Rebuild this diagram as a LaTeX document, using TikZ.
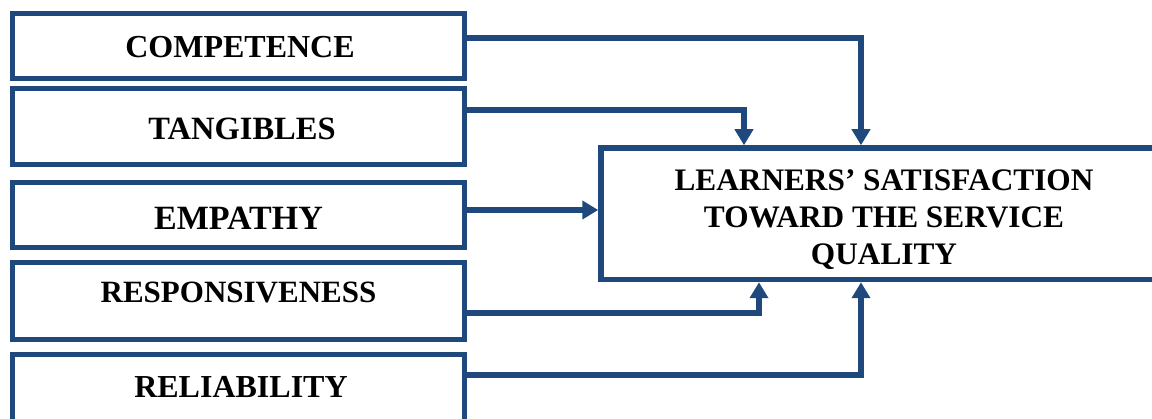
\documentclass[tikz,border=0pt]{standalone}
\usepackage{fontspec}
\setmainfont{Liberation Serif}
\usetikzlibrary{arrows.meta}
\usetikzlibrary{calc}
\definecolor{linkblue}{RGB}{31,73,125}

\begin{document}
\begin{tikzpicture}[
	x=1pt, y=-1pt,
	factor/.style={draw=linkblue, line width=5.5pt, minimum width=452pt, inner sep=0pt},
	target/.style={draw=linkblue, line width=5.5pt, minimum width=566pt, minimum height=131.5pt, inner sep=0pt},
	lbl/.style={anchor=base, inner sep=0pt, font=\bfseries\fontsize{32}{38}\selectfont},
	link/.style={draw=linkblue, line width=5.5pt, -{Triangle[length=16pt, width=18pt]}}
]
\useasboundingbox (0,0) rectangle (1152,419);

% dimension boxes
\node[factor, minimum height=65pt] (comp) at (238.5,46) {};
\node[factor, minimum height=76pt] (tang) at (238.5,126.5) {};
\node[factor, minimum height=65pt] (emp) at (238.5,215) {};
\node[factor, minimum height=77pt] (resp) at (238.5,301) {};
\node[factor, minimum height=76pt] (rel) at (238.5,392.5) {};

\node[lbl] (compTxt) at (240,58) {COMPETENCE};
\node[lbl, font=\bfseries\fontsize{32.5}{38}\selectfont] (tangTxt) at (242,140) {TANGIBLES};
\node[lbl, font=\bfseries\fontsize{34}{38}\selectfont] (empTxt) at (238.5,230) {EMPATHY};
\node[lbl, font=\bfseries\fontsize{31}{38}\selectfont] (respTxt) at (238.5,303) {RESPONSIVENESS};
\node[lbl] (relTxt) at (241,398) {RELIABILITY};

% satisfaction box
\node[target] (sat) at (884,213.75) {};
\node[align=center, inner sep=0pt, font=\bfseries\fontsize{31.3}{37}\selectfont] (satTxt) at (884,219.5)
	{LEARNERS’ SATISFACTION\\TOWARD THE SERVICE\\QUALITY};

\coordinate (colC) at (861,0);
\coordinate (colT) at (744,0);
\coordinate (colR) at (759,0);

\draw[link] ($(comp.east)+(0,-8)$) -| (sat.north -| colC);
\draw[link] ($(tang.east)+(0,-16.5)$) -| (sat.north -| colT);
\draw[link] ($(emp.east)+(0,-5)$) coordinate (empOut) -- (empOut -| sat.west);
\draw[link] ($(resp.east)+(0,12)$) -| (sat.south -| colR);
\draw[link] ($(rel.east)+(0,-17.5)$) -| (sat.south -| colC);
\end{tikzpicture}
\end{document}
